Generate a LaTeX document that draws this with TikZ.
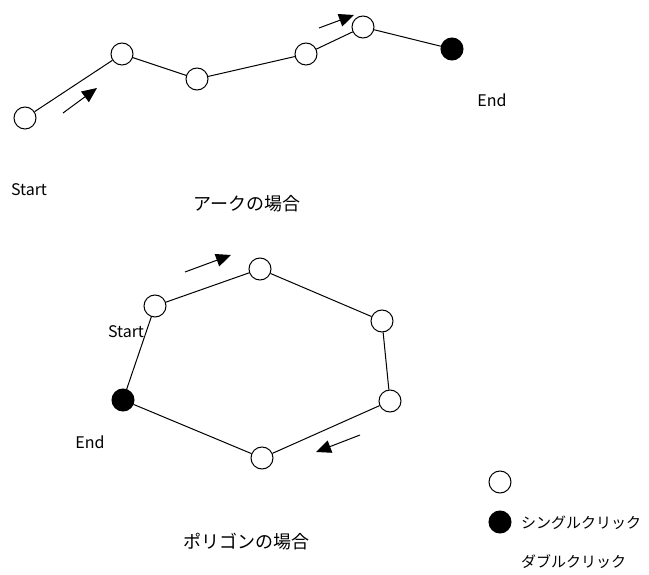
\documentclass[tikz,border=0pt]{standalone}
\usepackage{fontspec}
\setmainfont{Noto Sans CJK JP}
\usetikzlibrary{arrows.meta,positioning}

\tikzset{
  vertex/.style={circle, draw, line width=1pt, minimum size=22pt, inner sep=0pt, fill=white},
  endvertex/.style={vertex, fill=black},
  dirarrow/.style={line width=1pt, -{Triangle[length=15pt,width=13pt]}},
  edge/.style={line width=1pt},
  lbl/.style={font=\fontsize{16pt}{18pt}\selectfont, inner sep=0pt},
  title/.style={font=\fontsize{18pt}{20pt}\selectfont, inner sep=0pt},
  legendtext/.style={font=\fontsize{15pt}{17pt}\selectfont, inner sep=0pt, anchor=west}
}

\begin{document}
\begin{tikzpicture}[x=1pt, y=-1pt]
  \useasboundingbox (0,0) rectangle (649,575);

  % Define nodes (arc)
  \node[vertex] (a1) at (25,118) {};
  \node[vertex] (a2) at (122,54) {};
  \node[vertex] (a3) at (197,79) {};
  \node[vertex] (a4) at (306,54) {};
  \node[vertex] (a5) at (363,27) {};
  \node[endvertex] (a6) at (452,49) {};
  \node[lbl] (arcend) at (492,100) {End};
  \node[lbl] (arcstart) at (29,190) {Start};
  \node[title] (arctitle) at (247,204) {アークの場合};

  % Draw edges (arc)
  \draw[edge] (a1) -- (a2) -- (a3) -- (a4) -- (a5) -- (a6);
  \coordinate (t1) at (63,113);
  \coordinate (h1) at (97,88);
  \coordinate (t2) at (319,28);
  \coordinate (h2) at (354,15);
  \draw[dirarrow] (t1) -- (h1);
  \draw[dirarrow] (t2) -- (h2);

  % Define nodes (polygon)
  \node[vertex] (p1) at (155,306) {};
  \node[vertex] (p2) at (260,269) {};
  \node[vertex] (p3) at (382,321) {};
  \node[vertex] (p4) at (390,401) {};
  \node[vertex] (p5) at (262,458) {};
  \node[endvertex] (p6) at (123,400) {};
  \node[lbl] (polystart) at (126,332) {Start};
  \node[lbl] (polyend) at (90,442) {End};
  \node[title] (polytitle) at (246,542) {ポリゴンの場合};

  % Draw edges (polygon)
  \draw[edge] (p1) -- (p2) -- (p3) -- (p4) -- (p5) -- (p6) -- (p1);
  \coordinate (t3) at (185,272);
  \coordinate (h3) at (231,255);
  \coordinate (t4) at (360,435);
  \coordinate (h4) at (316,452);
  \draw[dirarrow] (t3) -- (h3);
  \draw[dirarrow] (t4) -- (h4);

  % Legend
  \node[vertex] (keyopen) at (500,482) {};
  \node[endvertex] (keyfill) at (500,522) {};
  \node[legendtext] (keysingle) at (521,523) {シングルクリック};
  \node[legendtext] (keydouble) at (521,562) {ダブルクリック};
\end{tikzpicture}
\end{document}
